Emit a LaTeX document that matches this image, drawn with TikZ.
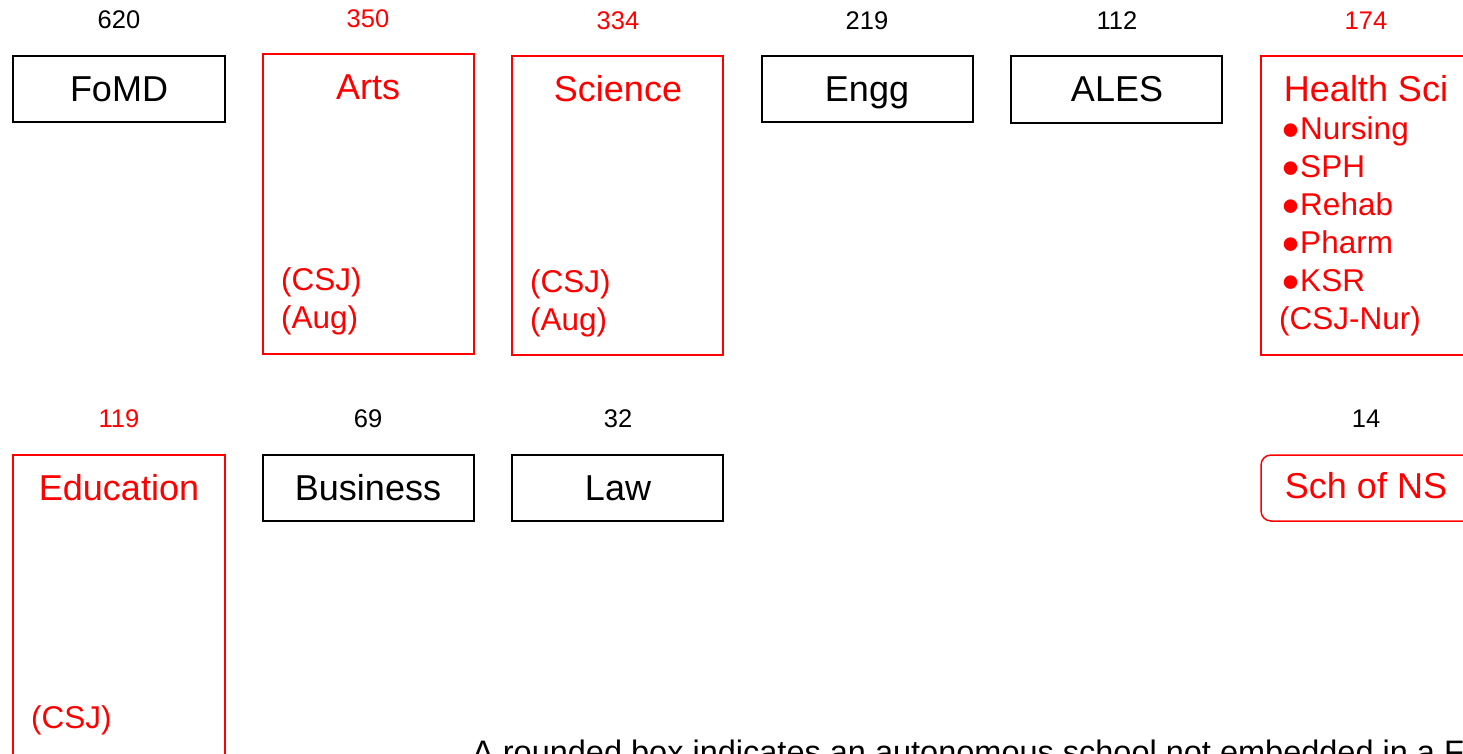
\documentclass[tikz,border=0pt]{standalone}
\usepackage{fontspec}
\setmainfont{Liberation Sans}
\definecolor{myred}{RGB}{255,0,0}
\tikzset{
  blk/.style={draw=black, line width=1.5pt},
  rbox/.style={draw=myred, line width=1.5pt},
  num/.style={anchor=base, inner sep=0pt, font=\fontsize{25.5}{30}\selectfont},
  ttl/.style={anchor=base, inner sep=0pt, font=\fontsize{36}{43}\selectfont},
  sub/.style={anchor=base west, inner sep=0pt, font=\fontsize{31.5}{38}\selectfont, text=myred},
}
\begin{document}
\begin{tikzpicture}[x=1pt,y=-1pt]
\useasboundingbox (0,0) rectangle (1463,753);
% row 1 boxes
\draw[blk] (13,56) rectangle (225,122);
\draw[rbox] (263,54) rectangle (474,354);
\draw[rbox] (512,56) rectangle (723,355);
\draw[blk] (762,56) rectangle (973,122);
\draw[blk] (1011,56) rectangle (1222,123);
\draw[rbox] (1261,56) rectangle (1473,355);
% row 2 boxes
\draw[rbox] (13,455) rectangle (225,790);
\draw[blk] (263,455) rectangle (474,521);
\draw[blk] (512,455) rectangle (723,521);
\draw[rbox, rounded corners=10pt] (1261,455) rectangle (1473,521);
% numbers
\node[num] (n1) at (119,28) {620};
\node[num, text=myred] (n2) at (368,27) {350};
\node[num, text=myred] (n3) at (618,29) {334};
\node[num] (n4) at (867,29) {219};
\node[num] (n5) at (1117,29) {112};
\node[num, text=myred] (n6) at (1366,29) {174};
\node[num, text=myred] (n7) at (119,427) {119};
\node[num] (n8) at (368,427) {69};
\node[num] (n9) at (618,427) {32};
\node[num] (n10) at (1366,427) {14};
% titles
\node[ttl] (t1) at (119,101) {FoMD};
\node[ttl, text=myred] (t2) at (368,99) {Arts};
\node[ttl, text=myred] (t3) at (618,101) {Science};
\node[ttl] (t4) at (867,101) {Engg};
\node[ttl] (t5) at (1117,101) {ALES};
\node[ttl, text=myred] (t6) at (1366,101) {Health Sci};
\node[ttl, text=myred] (t7) at (119,500) {Education};
\node[ttl] (t8) at (368,500) {Business};
\node[ttl] (t9) at (618,500) {Law};
\node[ttl, text=myred] (t10) at (1366,498) {Sch of NS};
% sub texts
\node[sub] (a1) at (281,290) {(CSJ)};
\node[sub] (a2) at (281,328) {(Aug)};
\node[sub] (s1) at (530,292) {(CSJ)};
\node[sub] (s2) at (530,330) {(Aug)};
\node[sub] (h1) at (1281,139) {●Nursing};
\node[sub] (h2) at (1281,177) {●SPH};
\node[sub] (h3) at (1281,215) {●Rehab};
\node[sub] (h4) at (1281,253) {●Pharm};
\node[sub] (h5) at (1281,291) {●KSR};
\node[sub] (h6) at (1279,329) {(CSJ-Nur)};
\node[sub] (e1) at (31,728) {(CSJ)};
% footnote (cut off at the page edge, as in the reference)
\node[anchor=base west, inner sep=0pt, font=\fontsize{32.5}{40}\selectfont] (foot) at (472,763) {A rounded box indicates an autonomous school not embedded in a Faculty};
\end{tikzpicture}
\end{document}
